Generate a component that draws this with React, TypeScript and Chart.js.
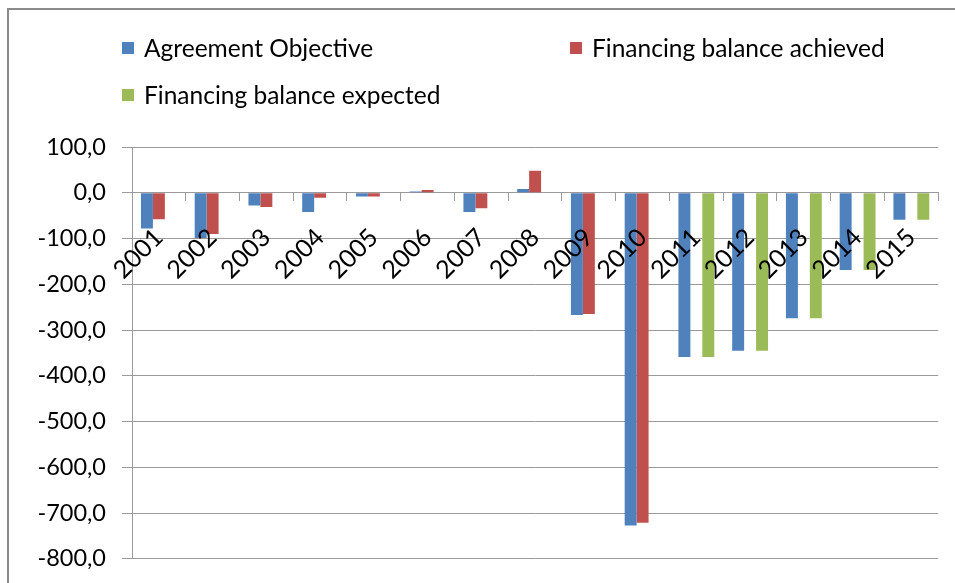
import React, { useEffect, useRef } from "react";
import { Chart, registerables } from "chart.js";

Chart.register(...registerables);

const years = ["2001","2002","2003","2004","2005","2006","2007","2008","2009","2010","2011","2012","2013","2014","2015"];
const agreementObjective = [-78, -99, -28, -42, -8, 3, -42, 8, -267, -727, -359, -345, -274, -169, -59];
const balanceAchieved = [-58, -90, -31, -11, -8, 6, -34, 48, -265, -721, null, null, null, null, null];
const balanceExpected = [null, null, null, null, null, null, null, null, null, null, -359, -345, -274, -169, -59];
const seriesNames = ["Agreement Objective", "Financing balance achieved", "Financing balance expected"];
const seriesColors = ["#4F81BD", "#C0504D", "#9BBB59"];
const yMin = -800;
const yMax = 100;
const yStep = 100;

const FONT = "Lato, 'Liberation Sans', sans-serif";

export default function App() {
  const ref = useRef<HTMLCanvasElement | null>(null);

  useEffect(() => {
    if (!ref.current) return;
    const chart = new Chart(ref.current, {
      type: "bar",
      data: {
        labels: years,
        datasets: [
          { label: seriesNames[0], data: agreementObjective, backgroundColor: seriesColors[0] },
          { label: seriesNames[1], data: balanceAchieved as any, backgroundColor: seriesColors[1] },
          { label: seriesNames[2], data: balanceExpected as any, backgroundColor: seriesColors[2] },
        ],
      },
      options: {
        responsive: false,
        animation: false,
        datasets: { bar: { categoryPercentage: 0.667, barPercentage: 1.0 } },
        layout: { padding: { left: 0, top: 147, right: 13, bottom: 20 } },
        plugins: { legend: { display: false }, tooltip: { enabled: false } },
        scales: {
          x: {
            position: { y: 0 } as any,
            grid: { offset: true, drawOnChartArea: false, drawTicks: true, tickLength: 8, color: "#9a9a9a" },
            border: { display: true, color: "#9a9a9a" },
            ticks: {
              z: 1,
              maxRotation: 45,
              minRotation: 45,
              autoSkip: false,
              padding: 22,
              color: "#000",
              font: { family: FONT, size: 25 },
            } as any,
          },
          y: {
            min: yMin,
            max: yMax,
            afterFit: (s: any) => { s.width = 132; },
            grid: { color: "#9a9a9a", tickLength: 10, lineWidth: 1 },
            border: { display: true, color: "#9a9a9a" },
            ticks: {
              stepSize: yStep,
              padding: 16,
              color: "#000",
              font: { family: FONT, size: 23.5 },
              callback: (v: any) => Number(v).toFixed(1).replace(".", ","),
            },
          },
        },
      },
    });
    return () => chart.destroy();
  }, []);

  const legendItem = (i: number, left: number, top: number) => (
    <div key={i} style={{ position: "absolute", left, top, display: "flex", alignItems: "center", fontFamily: FONT, fontSize: 24.5, color: "#000", whiteSpace: "nowrap" }}>
      <span style={{ display: "inline-block", width: 12, height: 12, background: seriesColors[i], marginRight: 10 }} />
      <span>{seriesNames[i]}</span>
    </div>
  );

  return (
    <div style={{ position: "fixed", left: 0, top: 0, width: 955, height: 583, overflow: "hidden", background: "#fff" }}>
      <div style={{ position: "absolute", left: 7, top: 8, width: 1100, height: 800, border: "2px solid #8a8a8a", boxSizing: "border-box" }} />
      <canvas ref={ref} width={955} height={589} style={{ position: "absolute", left: 0, top: 0, width: 955, height: 589 }} />
      {legendItem(0, 122, 33)}
      {legendItem(1, 570, 33)}
      {legendItem(2, 122, 80)}
    </div>
  );
}
